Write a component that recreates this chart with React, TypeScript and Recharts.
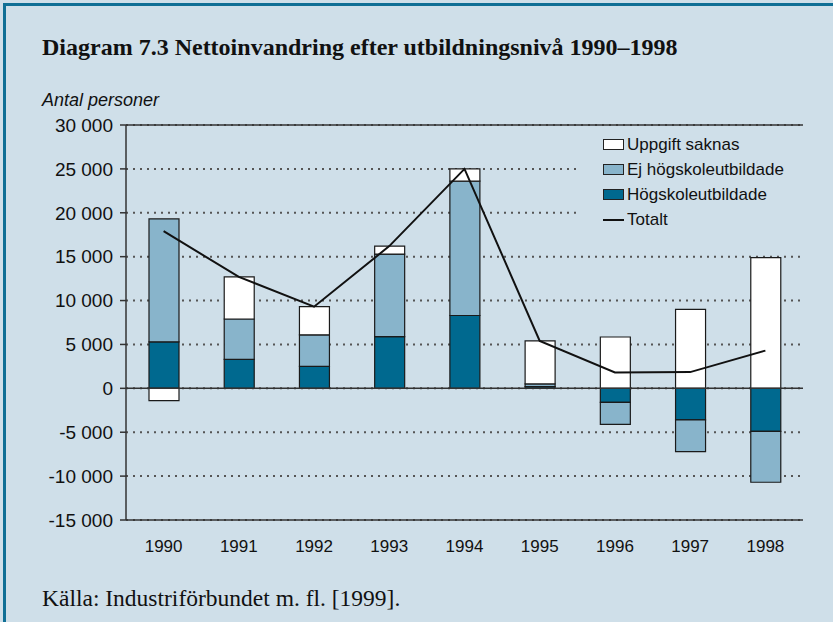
import React from "react";
import {
  ComposedChart,
  Bar,
  Line,
  XAxis,
  YAxis,
  CartesianGrid,
  ReferenceLine,
  Legend,
} from "recharts";

// År på x-axeln
const years = ["1990", "1991", "1992", "1993", "1994", "1995", "1996", "1997", "1998"];

// Nettoinvandring per utbildningsnivå (antal personer)
const hogskole = [5300, 3300, 2500, 5900, 8300, 200, -1600, -3600, -4900];
const ejHogskole = [14000, 4600, 3600, 9400, 15300, 300, -2500, -3600, -5800];
const uppgiftSaknas = [-1400, 4800, 3200, 900, 1400, 4900, 5850, 9000, 14900];
const totalt = [17900, 12700, 9300, 16200, 25000, 5400, 1800, 1850, 4300];

const yTicks = [-15000, -10000, -5000, 0, 5000, 10000, 15000, 20000, 25000, 30000];

const data = years.map((year, i) => ({
  year,
  hogskole: hogskole[i],
  ejHogskole: ejHogskole[i],
  uppgiftSaknas: uppgiftSaknas[i],
  totalt: totalt[i],
}));

const BG = "#cfdfe9";
const DARK = "#00698f";
const LIGHT = "#88b4cb";
const FRAME = "#333333";
const SANS = "'Liberation Sans', Arial, sans-serif";
const SERIF = "'Liberation Serif', 'Times New Roman', serif";

// "30 000" med mellanslag som tusentalsavgränsare
const formatY = (v: number) => {
  const s = Math.abs(v).toString().replace(/\B(?=(\d{3})+(?!\d))/g, " ");
  return v < 0 ? `-${s}` : s;
};

const legendItems = [
  { name: "Uppgift saknas", fill: "#ffffff" },
  { name: "Ej högskoleutbildade", fill: LIGHT },
  { name: "Högskoleutbildade", fill: DARK },
];

// Egen legend, samma ordning som originalet
const renderLegend = () => (
  <div
    style={{
      background: BG,
      fontFamily: SANS,
      fontSize: 17,
      color: "#111",
      padding: "5px 0 6px 25px",
      textAlign: "left",
    }}
  >
    {legendItems.map((item) => (
      <div
        key={item.name}
        style={{ display: "flex", alignItems: "center", height: 25 }}
      >
        <span
          style={{
            display: "inline-block",
            width: 19,
            height: 9,
            background: item.fill,
            border: "1px solid #222",
            marginRight: 3,
          }}
        />
        {item.name}
      </div>
    ))}
    <div style={{ display: "flex", alignItems: "center", height: 25 }}>
      <span
        style={{
          display: "inline-block",
          width: 21,
          height: 2,
          background: "#111",
          marginRight: 3,
        }}
      />
      Totalt
    </div>
  </div>
);

export default function App() {
  return (
    <div
      style={{
        position: "relative",
        width: 833,
        height: 622,
        background: BG,
        overflow: "hidden",
      }}
    >
      <style>{"body{margin:0}"}</style>
      <div
        style={{
          position: "absolute",
          left: 3,
          top: 3,
          right: 0,
          bottom: 0,
          borderTop: "3px solid #0f6f95",
          borderLeft: "3px solid #0f6f95",
        }}
      />
      <div
        style={{
          position: "absolute",
          left: 42,
          top: 35,
          fontFamily: SERIF,
          fontWeight: "bold",
          fontSize: 24,
          lineHeight: "24px",
          color: "#111",
          whiteSpace: "nowrap",
        }}
      >
        Diagram 7.3 Nettoinvandring efter utbildningsnivå 1990–1998
      </div>
      <div
        style={{
          position: "absolute",
          left: 42,
          top: 91,
          fontFamily: SANS,
          fontStyle: "italic",
          fontSize: 18,
          lineHeight: "18px",
          color: "#111",
        }}
      >
        Antal personer
      </div>
      <div
        style={{
          position: "absolute",
          left: 42,
          top: 587,
          fontFamily: SERIF,
          fontSize: 23.5,
          lineHeight: "23px",
          color: "#111",
          whiteSpace: "nowrap",
        }}
      >
        Källa: Industriförbundet m. fl. [1999].
      </div>
      <div style={{ position: "absolute", left: 0, top: 0 }}>
        <ComposedChart
          width={833}
          height={622}
          data={data}
          stackOffset="sign"
          margin={{ top: 125, right: 30, left: 0, bottom: 62 }}
        >
          <CartesianGrid
            yAxisId="left"
            vertical={false}
            stroke="#555"
            strokeWidth={2}
            strokeDasharray="2 5"
          />
          <XAxis
            dataKey="year"
            height={40}
            tickLine={false}
            tickSize={0}
            tickMargin={20}
            axisLine={{ stroke: FRAME, strokeWidth: 1.5 }}
            tick={{ fontFamily: SANS, fontSize: 17, fill: "#111" }}
          />
          <YAxis
            yAxisId="left"
            width={126}
            domain={[-15000, 30000]}
            ticks={yTicks}
            interval={0}
            tickFormatter={formatY}
            tickSize={6}
            tickMargin={7}
            tickLine={{ stroke: FRAME, strokeWidth: 1.5 }}
            axisLine={{ stroke: FRAME, strokeWidth: 1.5 }}
            tick={{ fontFamily: SANS, fontSize: 19, fill: "#111" }}
          />
          <YAxis
            yAxisId="right"
            orientation="right"
            width={0}
            domain={[-15000, 30000]}
            tick={false}
            tickLine={false}
            axisLine={{ stroke: FRAME, strokeWidth: 1.5 }}
          />
          <Legend
            layout="horizontal"
            verticalAlign="middle"
            align="center"
            content={renderLegend}
            wrapperStyle={{ top: 127, left: 578, width: 224 }}
          />
          <ReferenceLine yAxisId="left" y={30000} stroke={FRAME} strokeWidth={1.5} />
          <Bar
            yAxisId="left"
            dataKey="hogskole"
            name="Högskoleutbildade"
            stackId="a"
            fill={DARK}
            stroke="#1a1a1a"
            strokeWidth={1.2}
            barSize={30}
            isAnimationActive={false}
          />
          <Bar
            yAxisId="left"
            dataKey="ejHogskole"
            name="Ej högskoleutbildade"
            stackId="a"
            fill={LIGHT}
            stroke="#1a1a1a"
            strokeWidth={1.2}
            barSize={30}
            isAnimationActive={false}
          />
          <Bar
            yAxisId="left"
            dataKey="uppgiftSaknas"
            name="Uppgift saknas"
            stackId="a"
            fill="#ffffff"
            stroke="#1a1a1a"
            strokeWidth={1.2}
            barSize={30}
            isAnimationActive={false}
          />
          <ReferenceLine yAxisId="left" y={0} stroke={FRAME} strokeWidth={1.5} />
          <Line
            yAxisId="left"
            type="linear"
            dataKey="totalt"
            name="Totalt"
            stroke="#111"
            strokeWidth={2}
            dot={false}
            activeDot={false}
            isAnimationActive={false}
          />
        </ComposedChart>
      </div>
    </div>
  );
}
